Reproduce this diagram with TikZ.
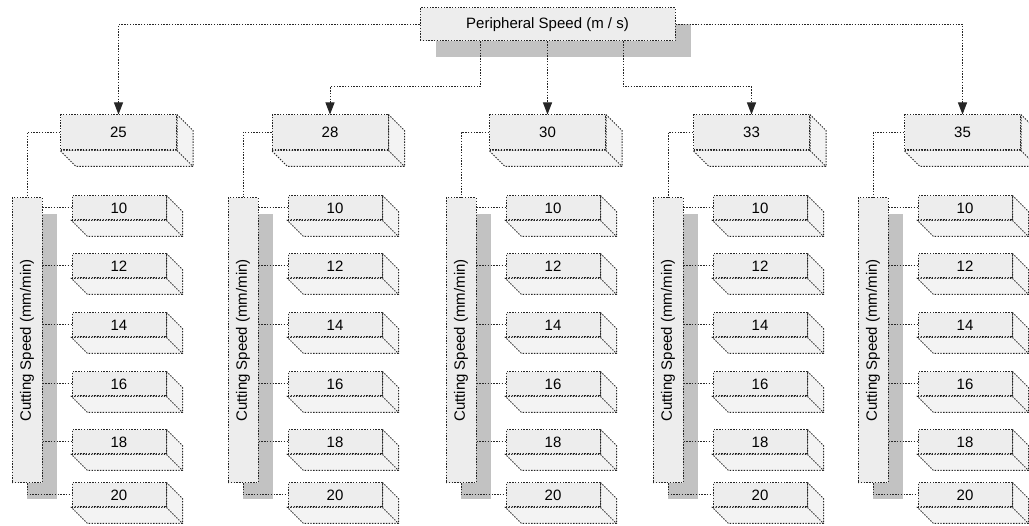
\documentclass[tikz,border=0pt]{standalone}
\usepackage{fontspec}
\setmainfont{Liberation Sans}
\usetikzlibrary{arrows.meta,shadows}

\definecolor{edge}{HTML}{262626}
\definecolor{panel}{HTML}{EDEDED}
\definecolor{sidepanel}{HTML}{F3F3F3}
\definecolor{shade}{HTML}{C2C2C2}

\tikzset{
  link/.style={draw=edge, line width=1pt, dash pattern=on 1.4pt off 1.4pt},
  face/.style={link, fill=panel, inner sep=0pt, font=\fontsize{15}{18}\selectfont},
  headbox/.style={face, minimum width=255pt, minimum height=33pt,
    drop shadow={shadow xshift=16pt, shadow yshift=-16pt, fill=shade, opacity=1}},
  speedbox/.style={face, minimum width=116pt, minimum height=35pt},
  feedbox/.style={face, minimum width=94pt, minimum height=24pt},
  axisbox/.style={face, minimum width=30pt, minimum height=285pt,
    drop shadow={shadow xshift=15pt, shadow yshift=-16pt, fill=shade, opacity=1}},
  tip/.style={-{Triangle[length=12pt,width=9pt]}}
}

% back faces of a box node
\newcommand{\extrude}[2][16]{%
  \draw[link, fill=sidepanel] (#2.north east) -- ++(#1,#1)
    -- ([shift={(#1,#1)}]#2.south east) -- ([shift={(#1,#1)}]#2.south west)
    -- (#2.south west) -- (#2.south east) -- cycle;
  \draw[link] (#2.south east) -- ++(#1,#1);
}

\begin{document}
\begin{tikzpicture}[x=1pt,y=-1pt]
  \useasboundingbox (0,0) rectangle (1029,526);

  \node[headbox] (head) at (547.5,24.5) {Peripheral Speed (m / s)};

  \foreach \v/\cx/\lx [count=\i] in {25/118.5/12, 28/330/228, 30/547.5/446, 33/751.5/653, 35/962.5/858} {
    \node[speedbox] (s\i) at (\cx,132.5) {\v};
    \extrude{s\i}
    \node[axisbox] (ax\i) at (\lx+15,340.5) {\rotatebox{90}{Cutting Speed (mm/min)}};
    \draw[link] (s\i.west) -| (ax\i.north);
    \foreach \f/\fy in {10/208, 12/266, 14/325, 16/384, 18/442, 20/495} {
      \node[feedbox] (f\i-\f) at (\lx+107,\fy) {\f};
      \extrude{f\i-\f}
    }
    \foreach \f in {10,12,14,16,18}
      \draw[link] (ax\i.east |- f\i-\f.west) -- (f\i-\f.west);
    \draw[link] (ax\i.south) |- (f\i-20.west);
  }

  % from the top box down to each speed
  \coordinate (bend2) at (480,87);
  \coordinate (bend4) at (623,87);
  \draw[link,tip] (head.west) -| (s1.north);
  \draw[link,tip] (head.south -| bend2) -- (bend2) -| (s2.north);
  \draw[link,tip] (head.south) -- (s3.north);
  \draw[link,tip] (head.south -| bend4) -- (bend4) -| (s4.north);
  \draw[link,tip] (head.east) -| (s5.north);
\end{tikzpicture}
\end{document}
